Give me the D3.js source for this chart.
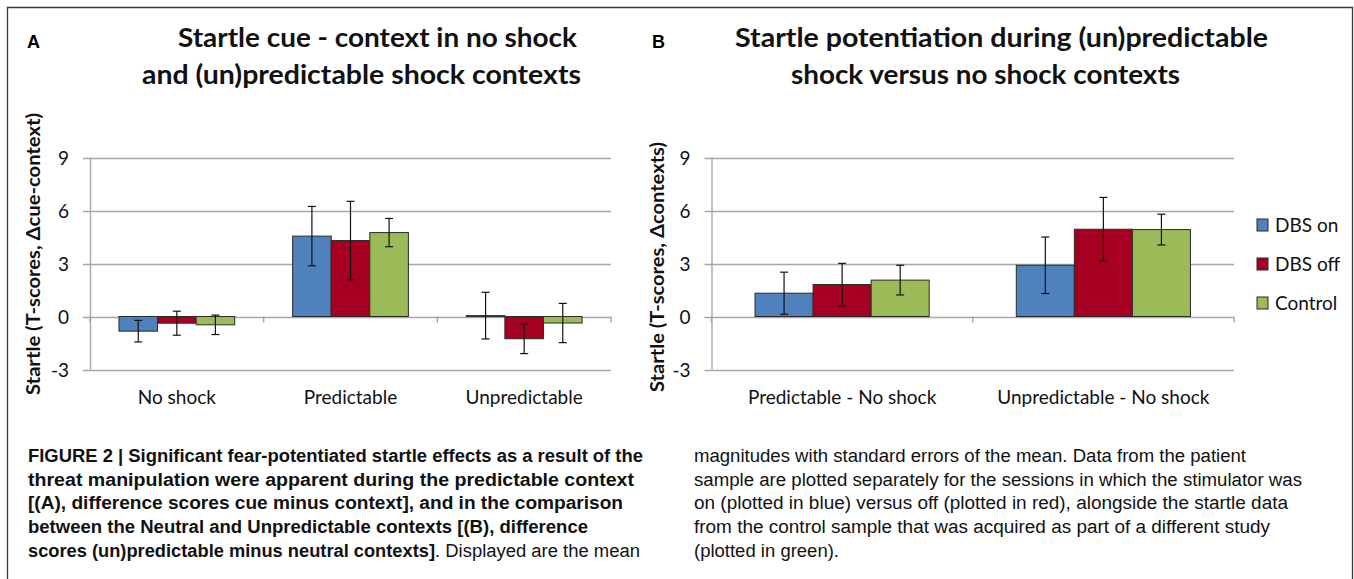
<!DOCTYPE html>
<html>
<head>
<meta charset="utf-8">
<script src="https://cdn.jsdelivr.net/npm/d3@7"></script>
<style>
  body { margin: 0; background: #fff; }
  svg { display: block; }
  .chart-text { font-family: Lato, "Open Sans", sans-serif; fill: #111; }
  .caption { font-family: "Liberation Sans Narrow", "Liberation Sans", Arial, sans-serif; font-size: 18px; fill: #111; }
</style>
</head>
<body>
<svg id="fig" width="1354" height="579"></svg>
<script>
// series + categories
const series = ['DBS on', 'DBS off', 'Control']
const colors = ['#4f81bd', '#a50021', '#9bbb59']

const categoriesA = ['No shock', 'Predictable', 'Unpredictable']
const dbsOnA   = [-0.83, 4.55, 0.05]
const dbsOffA  = [-0.38, 4.30, -1.26]
const controlA = [-0.47, 4.75, -0.37]
const seDbsOnA   = [0.61, 1.68, 1.32]
const seDbsOffA  = [0.68, 2.22, 0.84]
const seControlA = [0.55, 0.80, 1.11]

const categoriesB = ['Predictable - No shock', 'Unpredictable - No shock']
const dbsOnB   = [1.32, 2.90]
const dbsOffB  = [1.81, 4.94]
const controlB = [2.06, 4.92]
const seDbsOnB   = [1.19, 1.60]
const seDbsOffB  = [1.20, 1.80]
const seControlB = [0.84, 0.87]

const yTicks = [-3, 0, 3, 6, 9]

const svg = d3.select('#fig')

svg.append('rect').attr('width', 1354).attr('height', 579).attr('fill', '#fff')

// figure frame (open at the bottom)
svg.append('path')
    .attr('d', 'M7.5,579 V7.5 H1352.5 V579')
    .attr('fill', 'none')
    .attr('stroke', '#3a3a3a')
    .attr('stroke-width', 1.3)

function panel(opts) {
  const g = svg.append('g')
  const y = d3.scaleLinear().domain([-3, 9]).range([369.5, 157.5])
  const x0 = d3.scaleBand().domain(opts.categories).range([opts.left, opts.right])
  const x1 = d3.scaleBand().domain(series).range([0, x0.bandwidth()])
      .paddingInner(0).paddingOuter(0.75)

  // gridlines + y tick marks
  g.selectAll('line.grid')
      .data(yTicks)
      .enter().append('line')
      .attr('x1', opts.left - 7)
      .attr('x2', opts.right)
      .attr('y1', d => Math.round(y(d)) + 0.5)
      .attr('y2', d => Math.round(y(d)) + 0.5)
      .attr('stroke', '#a6a6a6')
      .attr('stroke-width', 1.4)

  // y axis line
  g.append('line')
      .attr('x1', opts.left + 0.5).attr('x2', opts.left + 0.5)
      .attr('y1', y(9)).attr('y2', y(-3))
      .attr('stroke', '#a6a6a6').attr('stroke-width', 1.4)

  // category tick marks below the zero line
  const bounds = opts.categories.map(c => x0(c)).concat([opts.right])
  g.selectAll('line.ctick')
      .data(bounds)
      .enter().append('line')
      .attr('x1', d => d).attr('x2', d => d)
      .attr('y1', y(0)).attr('y2', y(0) + 6)
      .attr('stroke', '#a6a6a6').attr('stroke-width', 1.4)

  g.selectAll('text.ytick')
      .data(yTicks)
      .enter().append('text')
      .attr('class', 'chart-text')
      .attr('x', opts.left - 21)
      .attr('y', d => y(d) + 7)
      .attr('text-anchor', 'end')
      .style('font-size', '19px')
      .text(d => d)

  g.selectAll('text.cat')
      .data(opts.categories)
      .enter().append('text')
      .attr('class', 'chart-text')
      .attr('x', d => x0(d) + x0.bandwidth() / 2)
      .attr('y', 404)
      .attr('text-anchor', 'middle')
      .style('font-size', '19px')
      .text(d => d)

  // bars
  const rows = []
  opts.categories.forEach((c, i) => {
    series.forEach((s, j) => {
      rows.push({ cat: c, s: s, color: colors[j], v: opts.values[j][i], e: opts.errors[j][i] })
    })
  })

  const bars = g.selectAll('g.bar')
      .data(rows)
      .enter().append('g')
      .attr('class', 'bar')

  bars.append('rect')
      .attr('x', d => x0(d.cat) + x1(d.s))
      .attr('width', x1.bandwidth())
      .attr('y', d => y(Math.max(0, d.v)))
      .attr('height', d => Math.abs(y(d.v) - y(0)))
      .attr('fill', d => d.color)
      .attr('stroke', '#2b2b2b')
      .attr('stroke-width', 1)

  const cx = d => x0(d.cat) + x1(d.s) + x1.bandwidth() / 2
  bars.append('line')
      .attr('x1', cx).attr('x2', cx)
      .attr('y1', d => y(d.v + d.e)).attr('y2', d => y(d.v - d.e))
      .attr('stroke', '#111').attr('stroke-width', 1.2)
  bars.append('line')
      .attr('x1', d => cx(d) - 4).attr('x2', d => cx(d) + 4)
      .attr('y1', d => y(d.v + d.e)).attr('y2', d => y(d.v + d.e))
      .attr('stroke', '#111').attr('stroke-width', 1.2)
  bars.append('line')
      .attr('x1', d => cx(d) - 4).attr('x2', d => cx(d) + 4)
      .attr('y1', d => y(d.v - d.e)).attr('y2', d => y(d.v - d.e))
      .attr('stroke', '#111').attr('stroke-width', 1.2)

  // y axis title
  g.append('text')
      .attr('class', 'chart-text')
      .attr('transform', `translate(${opts.ytitleX},${opts.ytitleY}) rotate(-90)`)
      .attr('text-anchor', 'middle')
      .attr('textLength', opts.ytitleLen)
      .attr('lengthAdjust', 'spacingAndGlyphs')
      .style('font-size', '18px')
      .style('font-weight', 'bold')
      .text(opts.ytitle)

  // panel letter + title
  g.append('text')
      .attr('x', opts.letterX).attr('y', 48)
      .style('font-family', '"Liberation Sans", Arial, sans-serif')
      .style('font-size', '18px').style('font-weight', 'bold')
      .text(opts.letter)

  opts.title.forEach((t, i) => {
    g.append('text')
        .attr('class', 'chart-text')
        .attr('x', t.x).attr('y', t.y)
        .attr('textLength', t.len)
        .attr('lengthAdjust', 'spacingAndGlyphs')
        .style('font-size', '26px')
        .style('font-weight', 'bold')
        .text(t.text)
  })
}

panel({
  categories: categoriesA,
  values: [dbsOnA, dbsOffA, controlA],
  errors: [seDbsOnA, seDbsOffA, seControlA],
  left: 90, right: 611,
  ytitle: 'Startle (T-scores, \u0394cue-context)', ytitleX: 40, ytitleY: 254, ytitleLen: 282,
  letter: 'A', letterX: 27,
  title: [
    { text: 'Startle cue - context in no shock', x: 178, y: 47, len: 399 },
    { text: 'and (un)predictable shock contexts', x: 142, y: 84, len: 439 }
  ]
})

panel({
  categories: categoriesB,
  values: [dbsOnB, dbsOffB, controlB],
  errors: [seDbsOnB, seDbsOffB, seControlB],
  left: 711.5, right: 1234,
  ytitle: 'Startle (T-scores, \u0394contexts)', ytitleX: 664, ytitleY: 267, ytitleLen: 250,
  letter: 'B', letterX: 652,
  title: [
    { text: 'Startle potentiation during (un)predictable', x: 735, y: 47, len: 533 },
    { text: 'shock versus no shock contexts', x: 791, y: 84, len: 389 }
  ]
})

// legend
const legendY = [225, 264, 303]
const legend = svg.append('g')
series.forEach((s, i) => {
  legend.append('rect')
      .attr('x', 1257).attr('y', legendY[i] - 6)
      .attr('width', 11).attr('height', 12)
      .attr('fill', colors[i]).attr('stroke', '#2b2b2b').attr('stroke-width', 1)
  legend.append('text')
      .attr('class', 'chart-text')
      .attr('x', 1275).attr('y', legendY[i] + 7)
      .style('font-size', '19px')
      .text(s)
})

// caption
const capLeft = [
  'FIGURE 2 | Significant fear-potentiated startle effects as a result of the',
  'threat manipulation were apparent during the predictable context',
  '[(A), difference scores cue minus context], and in the comparison',
  'between the Neutral and Unpredictable contexts [(B), difference'
]
const capLeftEnds = [643, 634, 623, 588]
const capRight = [
  'magnitudes with standard errors of the mean. Data from the patient',
  'sample are plotted separately for the sessions in which the stimulator was',
  'on (plotted in blue) versus off (plotted in red), alongside the startle data',
  'from the control sample that was acquired as part of a different study',
  '(plotted in green).'
]
const capRightEnds = [1246, 1302, 1288, 1270, 839]
const capBase = [462, 486, 509, 533, 557]

capLeft.forEach((t, i) => {
  svg.append('text').attr('class', 'caption')
      .attr('x', 28).attr('y', capBase[i])
      .attr('textLength', capLeftEnds[i] - 28)
      .attr('lengthAdjust', 'spacingAndGlyphs')
      .style('font-weight', 'bold')
      .text(t)
})
svg.append('text').attr('class', 'caption')
    .attr('x', 28).attr('y', capBase[4])
    .attr('textLength', 435 - 28).attr('lengthAdjust', 'spacingAndGlyphs')
    .style('font-weight', 'bold')
    .text('scores (un)predictable minus neutral contexts]')
svg.append('text').attr('class', 'caption')
    .attr('x', 435).attr('y', capBase[4])
    .attr('textLength', 640 - 435).attr('lengthAdjust', 'spacingAndGlyphs')
    .text('. Displayed are the mean')

capRight.forEach((t, i) => {
  svg.append('text').attr('class', 'caption')
      .attr('x', 694).attr('y', capBase[i])
      .attr('textLength', capRightEnds[i] - 694)
      .attr('lengthAdjust', 'spacingAndGlyphs')
      .text(t)
})
</script>
</body>
</html>
